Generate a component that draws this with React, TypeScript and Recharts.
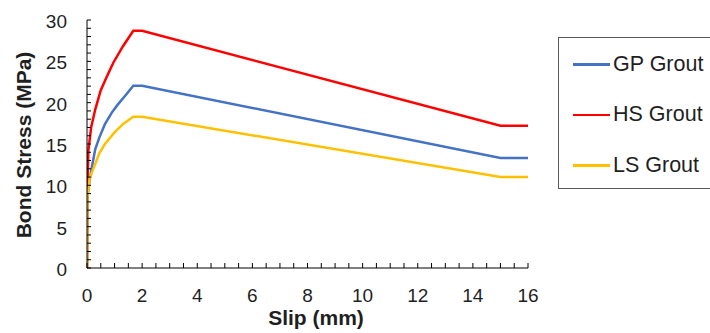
import { LineChart, Line, XAxis, YAxis } from 'recharts'

// bond stress (MPa) vs slip (mm)
const gpSlip = [0, 0.01, 0.1, 0.17, 0.3, 0.45, 0.65, 0.9, 1.1, 1.4, 1.68, 2.0, 15, 16]
const gpStress = [0, 8.5, 10.7, 12.1, 14.4, 15.8, 17.4, 18.8, 19.7, 20.9, 22.05, 22.05, 13.3, 13.3]

const hsSlip = [0, 0.01, 0.05, 0.15, 0.3, 0.5, 0.7, 0.95, 1.3, 1.68, 2.0, 15, 16]
const hsStress = [0, 9.5, 14.2, 17.0, 19.2, 21.5, 23.0, 24.8, 26.8, 28.7, 28.7, 17.2, 17.2]

const lsSlip = [0, 0.01, 0.1, 0.3, 0.45, 0.65, 1.0, 1.3, 1.68, 2.0, 15, 16]
const lsStress = [0, 8.5, 10.9, 12.6, 13.9, 15.0, 16.4, 17.4, 18.3, 18.3, 11.0, 11.0]

const seriesNames = ['GP Grout', 'HS Grout', 'LS Grout']
const seriesColors = ['#4472C4', '#FF0000', '#FFC000']

const xMajor = [0, 2, 4, 6, 8, 10, 12, 14, 16]
const yMajor = [0, 5, 10, 15, 20, 25, 30]
const xMinor = Array.from({ length: 33 }, (_, i) => i * 0.5)
const yMinor = Array.from({ length: 31 }, (_, i) => i)

const toPoints = (slip: number[], stress: number[]) =>
  slip.map((s, i) => ({ slip: s, stress: stress[i] }))

const series = [
  toPoints(gpSlip, gpStress),
  toPoints(hsSlip, hsStress),
  toPoints(lsSlip, lsStress),
]

const FONT = "'Liberation Sans', Arial, sans-serif"
const TEXT = '#1f1f1f'

const XTick = (props: any) => {
  const { x, y, payload } = props
  const major = xMajor.includes(payload.value)
  return (
    <g>
      <line x1={x} x2={x} y1={y} y2={y - 5} stroke="#000" strokeWidth={1} />
      {major && (
        <text x={x} y={y + 34} textAnchor="middle" fontSize={19} fill={TEXT} fontFamily={FONT}>
          {payload.value}
        </text>
      )}
    </g>
  )
}

const YTick = (props: any) => {
  const { x, y, payload } = props
  const major = yMajor.includes(payload.value)
  return (
    <g>
      <line x1={x} x2={x + 4} y1={y} y2={y} stroke="#000" strokeWidth={1} />
      {major && (
        <text x={x - 20} y={y + 8} textAnchor="end" fontSize={19} fill={TEXT} fontFamily={FONT}>
          {payload.value}
        </text>
      )}
    </g>
  )
}

export default function App() {
  return (
    <div
      style={{
        position: 'fixed',
        left: 0,
        top: 0,
        width: 710,
        height: 333,
        overflow: 'hidden',
        background: '#fff',
        fontFamily: FONT,
      }}
    >
      <LineChart width={710} height={333} margin={{ top: 20, right: 182, bottom: 0, left: 0 }}>
        <XAxis
          dataKey="slip"
          type="number"
          domain={[0, 16]}
          ticks={xMinor}
          interval={0}
          tick={<XTick />}
          tickLine={false}
          tickSize={0}
          tickMargin={0}
          height={65}
          axisLine={{ stroke: '#000', strokeWidth: 1 }}
          allowDataOverflow
          label={() => (
            <text x={316} y={325} textAnchor="middle" fontSize={21} fontWeight="bold" fill={TEXT} fontFamily={FONT}>
              Slip (mm)
            </text>
          )}
        />
        <YAxis
          dataKey="stress"
          type="number"
          domain={[0, 30]}
          ticks={yMinor}
          interval={0}
          tick={<YTick />}
          tickLine={false}
          tickSize={0}
          tickMargin={0}
          width={87}
          axisLine={{ stroke: '#000', strokeWidth: 1 }}
          allowDataOverflow
          label={() => (
            <text
              x={31}
              y={145}
              transform="rotate(-90 31 145)"
              textAnchor="middle"
              fontSize={21}
              fontWeight="bold"
              fill={TEXT}
              fontFamily={FONT}
            >
              Bond Stress (MPa)
            </text>
          )}
        />
        {series.map((pts, i) => (
          <Line
            key={seriesNames[i]}
            data={pts}
            dataKey="stress"
            name={seriesNames[i]}
            type="linear"
            stroke={seriesColors[i]}
            strokeWidth={2.5}
            dot={false}
            activeDot={false}
            isAnimationActive={false}
          />
        ))}
      </LineChart>

      <div
        style={{
          position: 'absolute',
          left: 558,
          top: 37,
          width: 170,
          height: 152,
          boxSizing: 'border-box',
          border: '1.25px solid #595959',
          paddingTop: 1,
        }}
      >
        {seriesNames.map((name, i) => (
          <div
            key={name}
            style={{ height: 50.5, display: 'flex', alignItems: 'center', paddingLeft: 14 }}
          >
            <span
              style={{ display: 'inline-block', width: 37, height: 2.5, background: seriesColors[i] }}
            />
            <span style={{ marginLeft: 3, fontSize: 21.5, color: TEXT, whiteSpace: 'nowrap' }}>{name}</span>
          </div>
        ))}
      </div>
    </div>
  )
}
